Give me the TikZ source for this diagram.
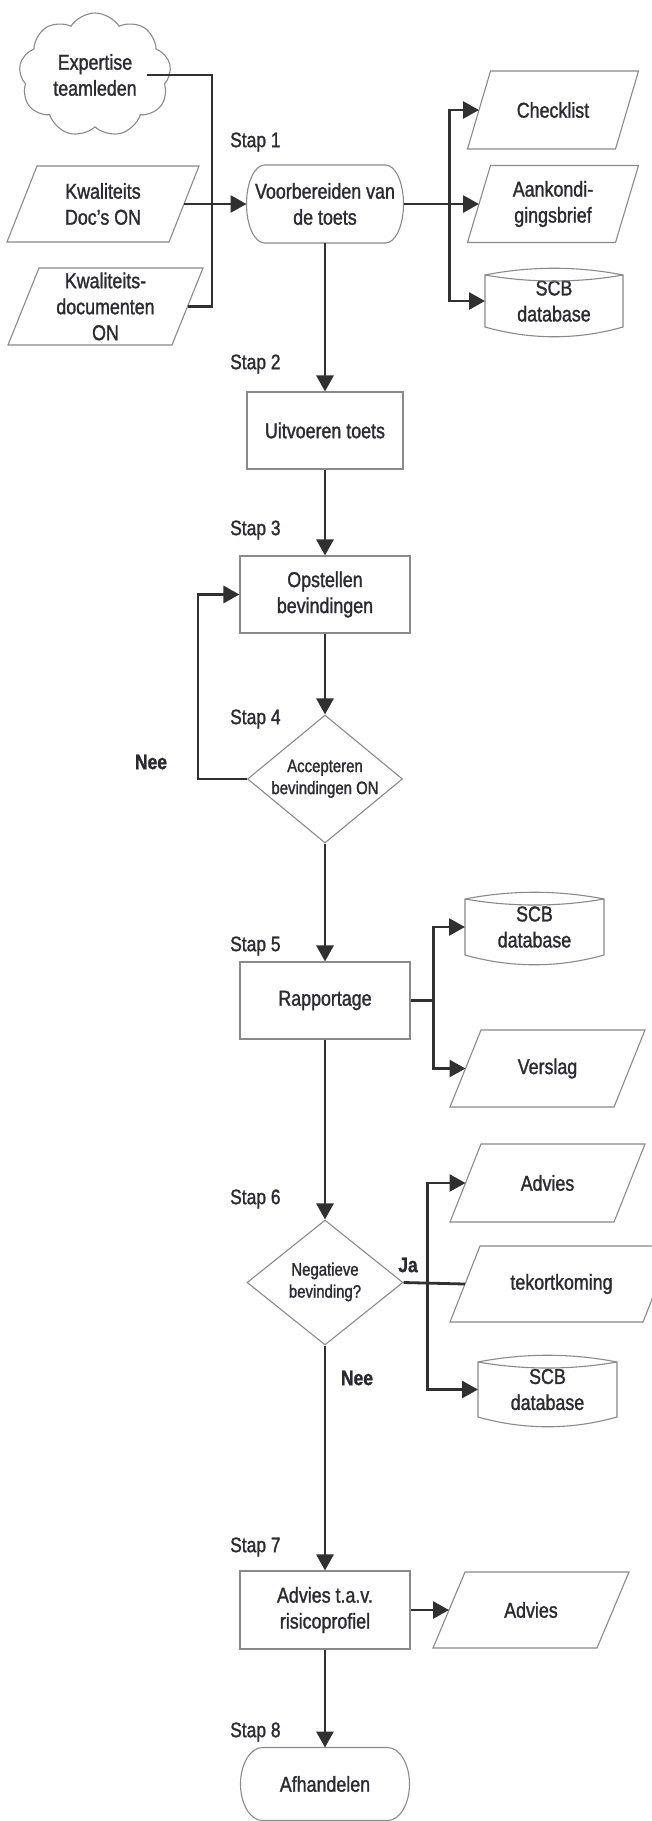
\documentclass[tikz,border=0pt]{standalone}
\usepackage{fontspec}
\setmainfont{Liberation Sans}[FakeStretch=0.83, FakeBold=1.3]
\usetikzlibrary{arrows.meta,shapes.geometric,shapes.symbols,calc}

\definecolor{ink}{HTML}{2A2A32}
\definecolor{wirecol}{HTML}{303030}
\definecolor{rim}{HTML}{8A8A8A}

% parallelogram (data) outline around a hidden rectangle node: name, half slant
\newcommand\paraOutline[2]{%
  \draw[outl] ($(#1.north west)+(#2,0)$) -- ($(#1.north east)+(#2,0)$)
    -- ($(#1.south east)+(-#2,0)$) -- ($(#1.south west)+(-#2,0)$) -- cycle;}
% terminator outline with elliptic ends: name, end bulge, half height
\newcommand\stadiumOutline[3]{%
  \draw[outl] ($(#1.north west)+(#2,0)$) -- ($(#1.north east)+(-#2,0)$)
    arc[start angle=90, end angle=-90, x radius=#2pt, y radius=#3pt]
    -- ($(#1.south west)+(#2,0)$)
    arc[start angle=270, end angle=90, x radius=#2pt, y radius=#3pt] -- cycle;}
% stored-data outline (lens top, curved bottom)
\newcommand\dbOutline[1]{%
  \draw[outl] (#1.north west)
      .. controls ($(#1.north west)!.33!(#1.north east)+(0,-9)$) and ($(#1.north west)!.67!(#1.north east)+(0,-9)$) .. (#1.north east)
      -- (#1.south east)
      .. controls ($(#1.south west)!.67!(#1.south east)+(0,13)$) and ($(#1.south west)!.33!(#1.south east)+(0,13)$) .. (#1.south west)
      -- cycle;
  \draw[outl] (#1.north west)
      .. controls ($(#1.north west)!.33!(#1.north east)+(0,8)$) and ($(#1.north west)!.67!(#1.north east)+(0,8)$) .. (#1.north east);}
% two-line text that does not enlarge a diamond
\newcommand\dtext[1]{\raisebox{-4pt}[0pt][0pt]{\makebox[0pt]{\begin{tabular}{@{}c@{}}#1\end{tabular}}}}

\begin{document}
\begin{tikzpicture}[x=1pt,y=-1pt,
  every node/.style={text=ink, font=\fontsize{21.5}{26}\selectfont, align=center, inner sep=0pt},
  outl/.style={draw=rim, line width=1.1pt},
  procbox/.style={rectangle, draw=rim, line width=1.1pt},
  hidden/.style={rectangle, outer sep=0pt},
  decision/.style={diamond, draw=rim, line width=1.1pt, font=\fontsize{18}{22}\selectfont},
  steplabel/.style={anchor=west, font=\fontsize{21}{25}\selectfont},
  answer/.style={font=\bfseries\fontsize{21}{25}\selectfont},
  wire/.style={draw=wirecol, line width=2.8pt},
  flow/.style={wire, -{Triangle[length=16pt,width=17pt]}}]

\fill[white] (0,0) rectangle (651,1821);
\useasboundingbox (0,0) rectangle (651,1821);

% ---------- inputs ----------
\node[cloud, draw=rim, line width=1.1pt, cloud puffs=9, cloud puff arc=115, aspect=1.25,
      minimum width=152, minimum height=124] (expert) at (95,75) {Expertise\\teamleden};
\node[hidden, minimum width=162, minimum height=76] (kd) at (103,204) {Kwaliteits\\Doc's ON};
\paraOutline{kd}{15}
\node[hidden, minimum width=164, minimum height=77] (kdoc) at (105.5,306.5) {Kwaliteits-\\documenten\\ON};
\paraOutline{kdoc}{15.5}

% ---------- main column ----------
\node[hidden, minimum width=157, minimum height=78] (prep) at (325,204) {Voorbereiden van\\de toets};
\stadiumOutline{prep}{18}{39}
\node[procbox, minimum width=156, minimum height=77] (exec) at (325,430.5) {Uitvoeren toets};
\node[procbox, minimum width=170, minimum height=77] (findings) at (325,594.5) {Opstellen\\bevindingen};
\node[decision, minimum width=155, minimum height=128] (accept) at (325,779) {\dtext{Accepteren\\bevindingen ON}};
\node[procbox, minimum width=170, minimum height=77] (report) at (325,1000.5) {Rapportage};
\node[decision, minimum width=156, minimum height=125] (negative) at (325,1282.5) {\dtext{Negatieve\\bevinding?}};
\node[procbox, minimum width=170, minimum height=78] (tav) at (325,1610) {Advies t.a.v.\\risicoprofiel};
\node[hidden, minimum width=169, minimum height=73] (finish) at (325,1784) {Afhandelen};
\stadiumOutline{finish}{22}{36.5}

% ---------- outputs ----------
\node[hidden, minimum width=148, minimum height=78] (check) at (553,110) {Checklist};
\paraOutline{check}{11.5}
\node[hidden, minimum width=148, minimum height=77] (announce) at (553,204) {Aankondi-\\gingsbrief};
\paraOutline{announce}{11.5}
\node[hidden, minimum width=138, minimum height=52] (db1) at (554,301) {SCB\\database};
\dbOutline{db1}
\node[hidden, minimum width=139, minimum height=56] (db2) at (534.5,927) {SCB\\database};
\dbOutline{db2}
\node[hidden, minimum width=164, minimum height=77] (verslag) at (547.5,1068.5) {Verslag};
\paraOutline{verslag}{15.5}
\node[hidden, minimum width=164, minimum height=78] (advies1) at (547.5,1183) {Advies};
\paraOutline{advies1}{15.5}
\node[hidden, minimum width=193, minimum height=76] (tekort) at (561.5,1284) {tekortkoming};
\paraOutline{tekort}{15}
\node[hidden, minimum width=139, minimum height=55] (db3) at (547.5,1389.5) {SCB\\database};
\dbOutline{db3}
\node[hidden, minimum width=164, minimum height=76] (advies2) at (531,1610) {Advies};
\paraOutline{advies2}{16}

% ---------- labels ----------
\node[steplabel] (st1) at (230,142) {Stap 1};
\node[steplabel] (st2) at (230,364) {Stap 2};
\node[steplabel] (st3) at (230,530) {Stap 3};
\node[steplabel] (st4) at (230,719) {Stap 4};
\node[steplabel] (st5) at (230,946) {Stap 5};
\node[steplabel] (st6) at (230,1199) {Stap 6};
\node[steplabel] (st7) at (230,1547) {Stap 7};
\node[steplabel] (st8) at (230,1732) {Stap 8};
\node[answer] (nee1) at (151,762) {Nee};
\node[answer] (nee2) at (357,1378) {Nee};
\node[answer] (ja) at (408,1265) {Ja};

% ---------- connectors ----------
\coordinate (cloudout) at (147,75);
\coordinate (inbus) at (212,204);
\draw[wire] (cloudout) -| (inbus);
\draw[wire] (kdoc.east) -| (inbus);
\draw[flow] (kd.east) -- (prep.west);

\draw[wire] (prep.east) -- ++(46,0) coordinate (outbus);
\draw[flow] (outbus) |- (check.west);
\draw[flow] (outbus) -- (announce.west);
\draw[flow] (outbus) |- (db1.west);

\draw[flow] (prep.south) -- (exec.north);
\draw[flow] (exec.south) -- (findings.north);
\draw[flow] (findings.south) -- (accept.north);
\draw[flow] (accept.west) -- ++(-49,0) |- (findings.west);
\draw[flow] (accept.south) -- (report.north);

\draw[wire] (report.east) -- ++(23,0) coordinate (repbus);
\draw[flow] (repbus) |- (db2.west);
\draw[flow] (repbus) |- (verslag.west);
\draw[flow] (report.south) -- (negative.north);

\draw[wire] (negative.east) -- (tekort.west);
\coordinate (negbus) at ($(negative.east)+(24,0)$);
\draw[flow] (negbus) |- (advies1.west);
\draw[flow] (negbus) |- (db3.west);
\draw[flow] (negative.south) -- (tav.north);

\draw[flow] (tav.east) -- (advies2.west);
\draw[flow] (tav.south) -- (finish.north);
\end{tikzpicture}
\end{document}
